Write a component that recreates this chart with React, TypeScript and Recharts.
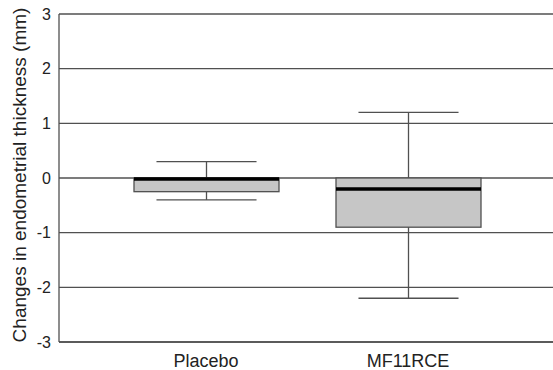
import React from 'react';
import { ComposedChart, Bar, XAxis, YAxis, CartesianGrid } from 'recharts';

const categories = ['Placebo', 'MF11RCE'];
const minValues = [-0.4, -2.2];
const q1Values = [-0.25, -0.9];
const medianValues = [-0.02, -0.2];
const q3Values = [0, 0];
const maxValues = [0.3, 1.2];
const yTicks = [-3, -2, -1, 0, 1, 2, 3];

const data = categories.map((name, i) => ({
  name,
  range: [minValues[i], maxValues[i]],
  min: minValues[i],
  q1: q1Values[i],
  median: medianValues[i],
  q3: q3Values[i],
  max: maxValues[i],
}));

const FONT = '"Liberation Sans", Arial, Helvetica, sans-serif';

// box + whiskers drawn from the min..max bar geometry
const BoxShape = (props: any) => {
  const { x, y, width, height, payload } = props;
  const { min, q1, median, q3, max } = payload;
  const k = height / (max - min);
  const yOf = (v: number) => y + (max - v) * k;
  const cx = x + width / 2;
  const capW = width * 0.69;
  return (
    <g>
      <line x1={cx} x2={cx} y1={yOf(max)} y2={yOf(min)} stroke="#505050" strokeWidth={1.3} />
      <line x1={cx - capW / 2} x2={cx + capW / 2} y1={yOf(max)} y2={yOf(max)} stroke="#505050" strokeWidth={1.3} />
      <line x1={cx - capW / 2} x2={cx + capW / 2} y1={yOf(min)} y2={yOf(min)} stroke="#505050" strokeWidth={1.3} />
      <rect x={x} y={yOf(q3)} width={width} height={yOf(q1) - yOf(q3)} fill="#c6c6c6" stroke="#505050" strokeWidth={1.3} />
      <line x1={x} x2={x + width} y1={yOf(median)} y2={yOf(median)} stroke="#000" strokeWidth={3.5} />
    </g>
  );
};

export default function App() {
  return (
    <div style={{ position: 'absolute', left: 0, top: 0, background: '#fff' }}>
      <ComposedChart width={553} height={370} data={data} margin={{ top: 14, right: 0, bottom: 0, left: 0 }}>
        <CartesianGrid horizontal vertical={false} stroke="#505050" strokeWidth={1.3} />
        <XAxis
          dataKey="name"
          height={28}
          padding={{ left: 46, right: 44 }}
          tickLine={false}
          axisLine={{ stroke: '#505050', strokeWidth: 1.3 }}
          tickMargin={6}
          tick={{ fill: '#222', fontSize: 18, fontFamily: FONT }}
        />
        <YAxis
          width={59}
          domain={[-3, 3]}
          ticks={yTicks}
          interval={0}
          tickLine={false}
          axisLine={{ stroke: '#505050', strokeWidth: 1.3 }}
          tick={{ fill: '#222', fontSize: 16, fontFamily: FONT }}
          label={{
            value: 'Changes in endometrial thickness (mm)',
            angle: -90,
            position: 'insideLeft',
            offset: 19,
            dy: -3,
            style: { textAnchor: 'middle', fill: '#222', fontSize: 19, fontFamily: FONT },
          }}
        />
        <Bar dataKey="range" barSize={145} shape={<BoxShape />} isAnimationActive={false} />
      </ComposedChart>
    </div>
  );
}
